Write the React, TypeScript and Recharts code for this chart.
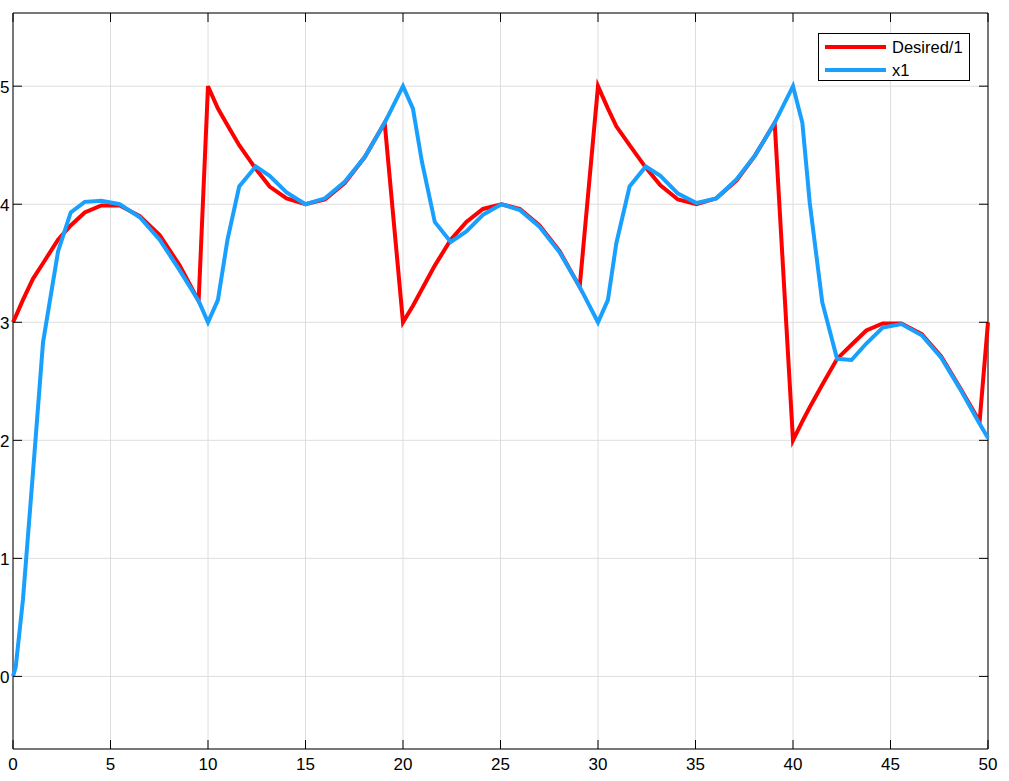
import { LineChart, Line, XAxis, YAxis, CartesianGrid, Legend, ReferenceArea } from 'recharts';

// sample times (s)
const time = [
  0, 0.14, 0.51, 1.03, 1.54, 2.31, 2.96, 3.68, 4.53, 5.47, 6.5, 7.52, 8.55, 9.52,
  10.0, 10.51, 11.0, 11.6, 12.45, 13.16, 14.03, 15.0, 16.0, 17.01, 18.04, 19.06,
  20.0, 20.51, 20.97, 21.63, 22.45, 23.25, 24.1, 25.05, 26.0, 27.0, 28.04, 29.06,
  30.0, 30.51, 30.94, 31.62, 32.45, 33.2, 34.1, 35.05, 36.07, 37.1, 38.04, 39.06,
  40.0, 40.48, 40.86, 41.5, 42.26, 43.0, 43.76, 44.6, 45.56, 46.6, 47.6, 48.55, 49.57, 50.0,
];

const desired = [
  3.0, 3.05, 3.19, 3.37, 3.5, 3.7, 3.82, 3.93, 3.99, 3.99, 3.9, 3.74, 3.48, 3.18,
  5.0, 4.81, 4.67, 4.5, 4.3, 4.15, 4.05, 4.0, 4.04, 4.18, 4.4, 4.69,
  3.0, 3.14, 3.28, 3.48, 3.7, 3.85, 3.96, 4.0, 3.96, 3.82, 3.6, 3.3,
  5.0, 4.81, 4.66, 4.5, 4.31, 4.16, 4.04, 4.0, 4.05, 4.2, 4.41, 4.69,
  2.0, 2.16, 2.28, 2.47, 2.69, 2.81, 2.93, 2.99, 2.99, 2.9, 2.71, 2.45, 2.16, 3.0,
];

const x1 = [
  0, 0.08, 0.65, 1.74, 2.83, 3.6, 3.93, 4.02, 4.03, 4.0, 3.89, 3.7, 3.44, 3.18,
  3.0, 3.19, 3.7, 4.15, 4.32, 4.24, 4.1, 4.0, 4.05, 4.19, 4.4, 4.69,
  5.0, 4.81, 4.36, 3.85, 3.68, 3.77, 3.91, 4.0, 3.95, 3.81, 3.59, 3.3,
  3.0, 3.19, 3.67, 4.15, 4.32, 4.24, 4.09, 4.01, 4.05, 4.21, 4.41, 4.69,
  5.0, 4.69, 4.01, 3.17, 2.69, 2.68, 2.82, 2.955, 2.985, 2.89, 2.7, 2.44, 2.14, 2.02,
];

const xTicks = [0, 5, 10, 15, 20, 25, 30, 35, 40, 45, 50];
const yTicks = [0, 1, 2, 3, 4, 5];
const X_DOMAIN: [number, number] = [0, 50];
const Y_DOMAIN: [number, number] = [-0.615, 5.62];

const FONT = '"Liberation Sans", Arial, Helvetica, sans-serif';
const RED = '#ff0000';
const BLUE = '#19a0ff';

// plot box edges (chart px), used for the inward tick marks on all four sides
const MARGIN = { top: 13, right: 21, bottom: 0, left: 0 };
const W = 1009;
const H = 781;
const PLOT_TOP = MARGIN.top;
const PLOT_BOTTOM = H - 32;
const PLOT_LEFT = 13;
const PLOT_RIGHT = W - MARGIN.right;
const TICK_LEN = 9;

const data = time.map((t, i) => ({ t, desired: desired[i], x1: x1[i] }));

// bottom tick: mark at bottom and top of the box, label below
const XTick = (props: any) => {
  const { x, payload } = props;
  return (
    <g>
      <line x1={x} x2={x} y1={PLOT_BOTTOM} y2={PLOT_BOTTOM - TICK_LEN} stroke="#000" />
      <line x1={x} x2={x} y1={PLOT_TOP} y2={PLOT_TOP + TICK_LEN} stroke="#000" />
      <text x={x} y={PLOT_BOTTOM + 21} textAnchor="middle" fontSize={17} fontFamily={FONT} fill="#000">
        {payload.value}
      </text>
    </g>
  );
};

// left tick: mark at left and right of the box, label to the left
const YTick = (props: any) => {
  const { y, payload } = props;
  return (
    <g>
      <line x1={PLOT_LEFT} x2={PLOT_LEFT + TICK_LEN} y1={y} y2={y} stroke="#000" />
      <line x1={PLOT_RIGHT} x2={PLOT_RIGHT - TICK_LEN} y1={y} y2={y} stroke="#000" />
      <text x={9.5} y={y + 6.5} textAnchor="end" fontSize={17} fontFamily={FONT} fill="#000">
        {payload.value}
      </text>
    </g>
  );
};

function LegendBox() {
  const rows = [
    { label: 'Desired/1', color: RED, y: 13 },
    { label: 'x1', color: BLUE, y: 35.5 },
  ];
  return (
    <div
      style={{
        position: 'relative',
        boxSizing: 'border-box',
        width: 152,
        height: 48,
        border: '1px solid #000',
        background: '#fff',
        fontFamily: FONT,
        fontSize: 16.5,
        color: '#000',
      }}
    >
      {rows.map(r => (
        <div key={r.label}>
          <div
            style={{
              position: 'absolute',
              left: 6,
              top: r.y - 2,
              width: 61,
              height: 4,
              background: r.color,
            }}
          />
          <div style={{ position: 'absolute', left: 73, top: r.y - 10, lineHeight: '20px', whiteSpace: 'nowrap' }}>
            {r.label}
          </div>
        </div>
      ))}
    </div>
  );
}

export default function App() {
  return (
    <div style={{ position: 'absolute', left: 0, top: 0, width: W, height: H, background: '#fff' }}>
      <LineChart width={W} height={H} data={data} margin={MARGIN}>
        <CartesianGrid stroke="#dedede" strokeWidth={1} />
        <XAxis
          dataKey="t"
          type="number"
          domain={X_DOMAIN}
          ticks={xTicks}
          interval={0}
          height={32}
          axisLine={false}
          tickLine={false}
          tick={<XTick />}
        />
        <YAxis
          type="number"
          domain={Y_DOMAIN}
          ticks={yTicks}
          interval={0}
          width={13}
          axisLine={false}
          tickLine={false}
          tick={<YTick />}
        />
        <Legend
          layout="horizontal"
          verticalAlign="middle"
          align="center"
          wrapperStyle={{ top: 33, left: 818, width: 152, height: 48 }}
          content={() => <LegendBox />}
        />
        <Line
          type="linear"
          dataKey="desired"
          name="Desired/1"
          stroke={RED}
          strokeWidth={4}
          dot={false}
          activeDot={false}
          isAnimationActive={false}
        />
        <Line
          type="linear"
          dataKey="x1"
          name="x1"
          stroke={BLUE}
          strokeWidth={4}
          dot={false}
          activeDot={false}
          isAnimationActive={false}
        />
        <ReferenceArea
          x1={X_DOMAIN[0]}
          x2={X_DOMAIN[1]}
          y1={Y_DOMAIN[0]}
          y2={Y_DOMAIN[1]}
          fill="none"
          fillOpacity={0}
          stroke="#000"
          strokeWidth={1}
        />
      </LineChart>
    </div>
  );
}
